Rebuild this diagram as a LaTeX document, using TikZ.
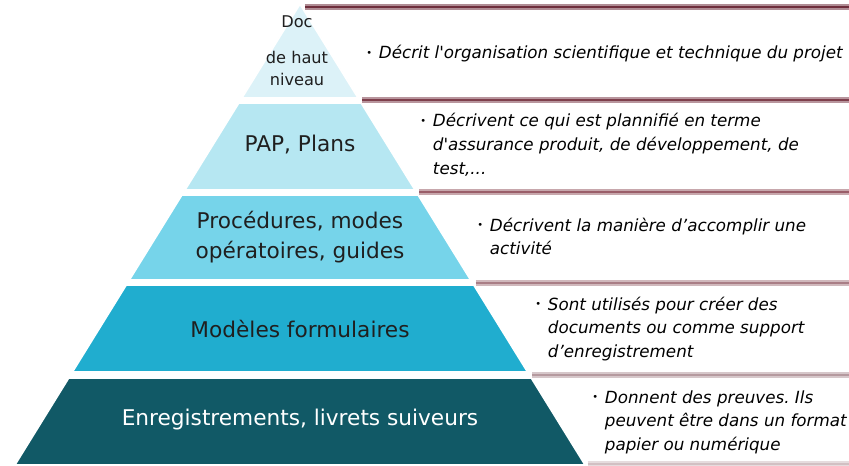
\documentclass[tikz,border=0pt]{standalone}
\usepackage{fontspec}
\setmainfont{DejaVu Sans}
\usetikzlibrary{positioning}
\frenchspacing

\definecolor{lvlA}{HTML}{DCF2F8}
\definecolor{lvlB}{HTML}{B6E7F2}
\definecolor{lvlC}{HTML}{76D4EA}
\definecolor{lvlD}{HTML}{20ADCF}
\definecolor{lvlE}{HTML}{115966}
\definecolor{ruleA}{HTML}{6E2E3C}
\definecolor{ruleB}{HTML}{7E3F4C}
\definecolor{ruleC}{HTML}{9A5E69}
\definecolor{ruleD}{HTML}{A97E86}
\definecolor{ruleE}{HTML}{B59A9F}
\definecolor{ruleF}{HTML}{D2C0C3}

% bullet with hanging lines
\newcommand{\point}[1]{\makebox[9pt][l]{\raisebox{0.25ex}{\scriptsize\textbullet}}%
  \begin{tabular}[t]{@{}l@{}}#1\end{tabular}}

\begin{document}
\begin{tikzpicture}[x=0.025cm, y=-0.025cm,
                    layer/.style={draw=white, line width=1.2pt, line join=round},
                    level text/.style={font=\fontsize{15.4}{21}\selectfont, text=black!88, align=center},
                    note/.style={font=\itshape\fontsize{11.9}{17}\selectfont, anchor=base west, inner sep=0pt}]
  \useasboundingbox (0,0) rectangle (849,466);

  % pyramid slices, apex at (300,4)
  \foreach \top/\bot/\col in {4/98/lvlA, 103/190/lvlB, 195/280/lvlC, 285/372/lvlD, 378/465/lvlE}{
    \pgfmathsetmacro\wt{0.6185*(\top-4)}
    \pgfmathsetmacro\wb{0.6185*(\bot-4)}
    \filldraw[layer, fill=\col] (300-\wt,\top) -- (300+\wt,\top) -- (300+\wb,\bot) -- (300-\wb,\bot) -- cycle;
  }

  % rules between the notes
  \foreach \y/\col in {7/ruleA, 100/ruleB, 192/ruleC, 283/ruleD, 375/ruleE, 464/ruleF}{
    \pgfmathsetmacro\xs{300+0.6185*(\y-4)+3}
    \draw[\col!55, line width=3.8pt] (\xs,\y) -- (849,\y);
    \draw[\col, line width=1.7pt] (\xs,\y) -- (849,\y);
  }

  \node[level text, font=\fontsize{11.5}{16}\selectfont] (doc) at (297,51) {Doc\\[9pt]de haut\\niveau};
  \node[level text] (pap) at (300,145) {PAP, Plans};
  \node[level text] (proc) at (300,237) {Procédures, modes\\opératoires, guides};
  \node[level text] (form) at (300,329) {Modèles formulaires};
  \node[level text, text=white] (rec) at (300,420) {Enregistrements, livrets suiveurs};

  \node[note] (n1) at (366,59) {\point{Décrit l\textquotesingle organisation scientifique et technique du projet}};
  \node[note] (n2) at (420,127) {\point{Décrivent ce qui est plannifié en terme\\d\textquotesingle assurance produit, de développement, de\\test,...}};
  \node[note] (n3) at (477,231) {\point{Décrivent la manière d’accomplir une\\activité}};
  \node[note] (n4) at (535,310) {\point{Sont utilisés pour créer des\\documents ou comme support\\d’enregistrement}};
  \node[note] (n5) at (592,403) {\point{Donnent des preuves. Ils\\peuvent être dans un format\\papier ou numérique}};
\end{tikzpicture}
\end{document}
